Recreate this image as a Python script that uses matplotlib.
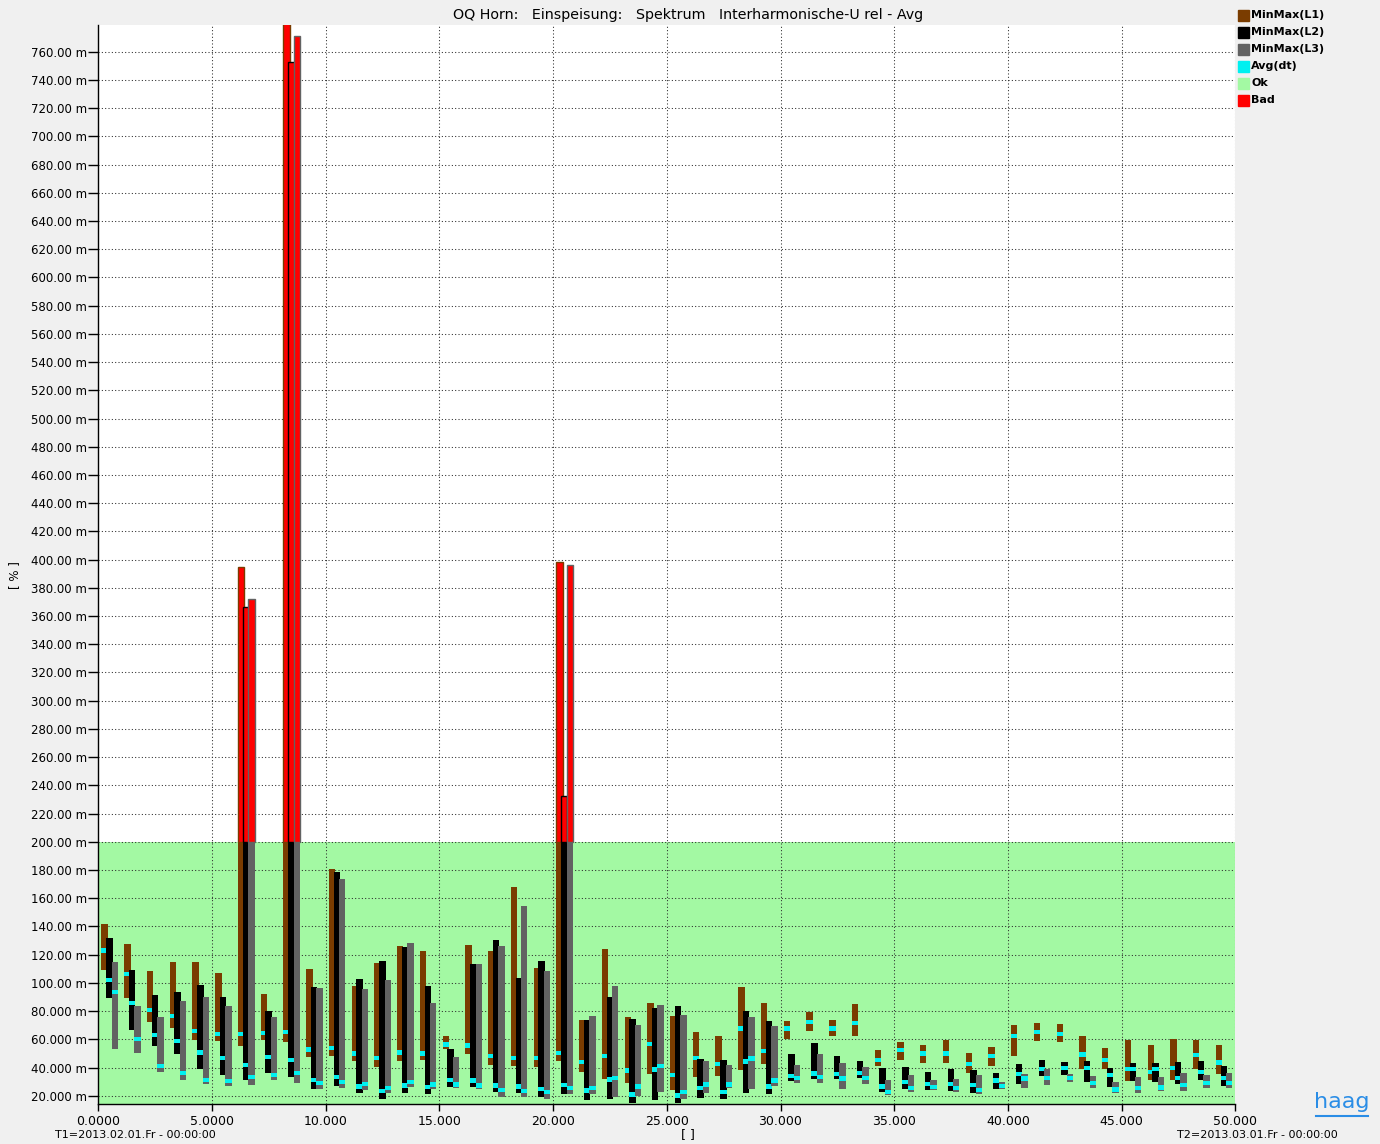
import matplotlib
matplotlib.use("Agg")
import matplotlib.pyplot as plt
import numpy as np
from matplotlib.patches import Rectangle
from matplotlib.lines import Line2D

# ---------------- data (values in m%) ----------------
groups = np.arange(50)  # interharmonic groups 0..49

l1_max = [141.5, 127.8, 108.4, 114.8, 114.8, 106.8, 394.4, 92.4, 780.0, 110.1,
          180.9, 98.0, 114.1, 126.1, 122.8, 62.4, 126.8, 122.8, 167.9, 110.8,
          398.2, 73.7, 124.0, 75.6, 86.0, 76.3, 65.2, 62.0, 97.3, 86.0,
          73.0, 79.6, 73.7, 85.3, 52.3, 57.9, 56.3, 59.3, 50.6, 54.6,
          70.0, 71.6, 70.7, 62.0, 53.9, 59.3, 56.3, 60.3, 59.6, 56.3]
l1_min = [109.4, 89.3, 72.3, 68.3, 59.6, 58.6, 55.6, 59.6, 57.9, 47.5,
          48.2, 44.5, 40.2, 44.5, 45.2, 53.2, 49.9, 41.9, 40.9, 40.2,
          44.5, 36.9, 32.2, 29.1, 35.5, 24.4, 33.1, 33.8, 38.1, 42.6,
          60.3, 65.9, 62.0, 62.6, 40.9, 45.6, 43.3, 43.3, 36.2, 40.9,
          48.2, 58.6, 57.9, 38.6, 38.6, 30.5, 31.5, 31.0, 38.6, 35.5]
l1_avg = [123.0, 106.3, 80.6, 76.6, 65.9, 63.6, 63.6, 64.5, 65.0, 52.7,
          53.9, 49.9, 46.6, 50.6, 49.9, 56.3, 55.6, 48.2, 46.6, 46.6,
          50.4, 43.8, 48.2, 37.9, 56.7, 34.6, 46.6, 42.6, 67.6, 51.5,
          67.6, 72.3, 67.6, 71.6, 45.2, 52.3, 49.9, 49.9, 42.6, 48.2,
          62.2, 65.2, 63.8, 49.2, 45.2, 39.0, 36.9, 39.5, 48.7, 43.5]

l2_max = [131.8, 109.1, 91.4, 93.8, 98.8, 90.0, 366.5, 80.0, 752.4, 97.1,
          178.5, 102.8, 115.7, 125.4, 98.0, 53.0, 113.1, 130.4, 103.5, 115.5,
          232.5, 73.7, 89.8, 74.7, 82.0, 83.6, 46.1, 45.6, 80.1, 73.0,
          49.7, 57.7, 48.2, 44.9, 39.5, 40.2, 36.9, 38.6, 37.9, 36.2,
          42.6, 45.6, 44.2, 44.9, 39.5, 43.3, 43.3, 44.2, 44.9, 40.9]
l2_min = [89.3, 66.7, 55.6, 49.9, 38.6, 34.6, 31.0, 36.2, 33.1, 25.1,
          26.8, 22.0, 18.0, 22.0, 20.9, 26.5, 26.5, 22.5, 22.0, 19.2,
          20.9, 17.3, 18.0, 15.0, 16.8, 15.0, 18.7, 17.8, 22.0, 20.9,
          30.8, 32.2, 32.2, 32.6, 22.5, 24.9, 24.4, 23.7, 21.6, 24.9,
          28.2, 33.8, 34.6, 29.8, 26.5, 30.5, 29.8, 28.2, 31.0, 27.2]
l2_avg = [102.0, 85.5, 62.9, 58.9, 50.6, 46.6, 41.6, 47.3, 45.2, 31.0,
          33.1, 26.5, 23.2, 27.2, 26.1, 31.0, 30.8, 27.2, 26.5, 24.9,
          27.5, 23.7, 31.5, 20.9, 38.6, 20.2, 25.3, 22.5, 44.2, 26.5,
          33.8, 35.7, 35.5, 36.2, 26.5, 29.8, 28.2, 28.2, 27.5, 30.8,
          35.5, 39.0, 39.5, 39.5, 34.6, 39.0, 39.0, 32.8, 36.9, 32.6]

l3_max = [114.8, 83.6, 76.1, 87.4, 90.0, 83.6, 372.2, 76.1, 770.8, 96.4,
          173.8, 95.4, 102.1, 128.5, 86.0, 47.3, 113.1, 126.1, 154.4, 108.4,
          396.5, 76.3, 98.0, 70.0, 84.4, 77.0, 44.9, 41.6, 75.6, 69.2,
          41.6, 49.7, 43.3, 40.2, 31.5, 34.6, 31.5, 32.2, 34.6, 29.8,
          35.5, 38.6, 35.5, 33.8, 29.8, 33.1, 33.1, 36.2, 34.6, 36.2]
l3_min = [53.0, 50.6, 36.9, 31.5, 28.2, 27.2, 27.9, 31.5, 29.1, 25.1,
          25.6, 24.4, 22.0, 26.1, 25.1, 25.3, 25.1, 19.2, 19.2, 18.0,
          20.9, 20.9, 19.2, 19.7, 22.5, 17.8, 21.8, 25.6, 25.1, 26.8,
          29.1, 29.1, 24.9, 28.4, 20.4, 22.5, 24.4, 22.5, 20.9, 24.9,
          25.8, 27.9, 29.8, 25.6, 22.0, 22.0, 23.5, 23.5, 25.8, 25.8]
l3_avg = [93.3, 60.0, 40.9, 36.2, 31.2, 30.3, 33.4, 34.6, 36.0, 29.1,
          30.0, 28.4, 25.6, 29.6, 27.9, 27.9, 27.2, 24.2, 23.2, 22.5,
          25.6, 25.6, 32.4, 26.5, 41.2, 22.5, 27.9, 27.9, 46.4, 30.8,
          32.4, 33.1, 32.2, 32.4, 22.7, 25.6, 26.3, 25.3, 24.2, 27.0,
          32.2, 32.6, 32.6, 29.1, 24.4, 25.6, 25.8, 27.5, 29.1, 29.3]

limit_ok = 200.0
legend_labels = ["MinMax(L1)", "MinMax(L2)", "MinMax(L3)", "Avg(dt)", "Ok", "Bad"]
title = "OQ Horn:   Einspeisung:   Spektrum   Interharmonische-U rel - Avg"
t1_text = "T1=2013.02.01.Fr - 00:00:00"
t2_text = "T2=2013.03.01.Fr - 00:00:00"

# ---------------- style ----------------
c_l1 = "#7a3c00"
c_l2 = "#000000"
c_l3 = "#626262"
c_avg = "#00f0f0"
c_ok = "#a3f9a3"
c_bad = "#ff0000"
bg = "#f0f0f0"

W, H = 1380, 1144
fig = plt.figure(figsize=(W / 100, H / 100), dpi=100, facecolor=bg)
ax_l, ax_r, ax_t, ax_b = 98.3, 1235.3, 25.0, 1103.5
ax = fig.add_axes([ax_l / W, 1 - ax_b / H, (ax_r - ax_l) / W, (ax_b - ax_t) / H])
ax.set_facecolor("white")

ymin, ymax = 14.5, 778.9
ax.set_xlim(0, 50)
ax.set_ylim(ymin, ymax)

# Ok band
ax.axhspan(ymin, limit_ok, color=c_ok, zorder=0, lw=0)

# grid
dot = (0, (1, 2.2))
for yv in np.arange(20, 761, 20):
    ax.axhline(yv, color="#2a2a2a", lw=0.75, ls=dot, zorder=0.5)
for xv in np.arange(5, 51, 5):
    ax.axvline(xv, color="#2a2a2a", lw=0.75, ls=dot, zorder=0.5)

# bars
offsets = [0.28, 0.49, 0.73]
width = 0.28
avg_h = 3.0
phases = [(l1_min, l1_max, l1_avg, c_l1),
          (l2_min, l2_max, l2_avg, c_l2),
          (l3_min, l3_max, l3_avg, c_l3)]

for pi, (mins, maxs, avgs, col) in enumerate(phases):
    xs = groups + offsets[pi]
    mins = np.array(mins); maxs = np.array(maxs); avgs = np.array(avgs)
    top_ok = np.minimum(maxs, limit_ok)
    ax.bar(xs, top_ok - mins, bottom=mins, width=width, color=col,
           edgecolor="none", zorder=2 + pi * 2, align="center")
    bad = maxs > limit_ok
    if bad.any():
        ax.bar(xs[bad], maxs[bad] - limit_ok, bottom=limit_ok, width=width,
               color=c_bad, edgecolor=col, linewidth=1.0, zorder=2 + pi * 2)
    ax.bar(xs, avg_h, bottom=avgs - avg_h / 2, width=width, color=c_avg,
           edgecolor="none", zorder=3 + pi * 2)

# spines
for s in ["top", "right"]:
    ax.spines[s].set_visible(False)
ax.spines["left"].set_color("black")
ax.spines["bottom"].set_color("black")
ax.spines["left"].set_linewidth(1.0)
ax.spines["bottom"].set_linewidth(1.0)


def fmt5(v):
    if abs(v) < 10:
        return f"{v:.4f}"
    if abs(v) < 100:
        return f"{v:.3f}"
    return f"{v:.2f}"


yt = np.arange(20, 761, 20)
ax.set_yticks(yt)
ax.set_yticklabels([fmt5(v) + " m" for v in yt])
xt = np.arange(0, 51, 5)
ax.set_xticks(xt)
ax.set_xticklabels([fmt5(v) for v in xt])
ax.tick_params(axis="y", length=7, width=1, pad=1, labelsize=8.5, colors="black")
ax.tick_params(axis="x", length=5, width=1, pad=3, labelsize=9, colors="black")

# texts
fig.text(688 / W, 1 - 15 / H, title, ha="center", va="center", fontsize=10.3)
fig.text(15 / W, 1 - 575 / H, "[ % ]", rotation=90, ha="center", va="center", fontsize=8.5)
fig.text(688 / W, 1 - 1135 / H, "[ ]", ha="center", va="center", fontsize=9)
fig.text(55 / W, 1 - 1135 / H, t1_text, ha="left", va="center", fontsize=8)
fig.text(1338 / W, 1 - 1135 / H, t2_text, ha="right", va="center", fontsize=8)

# legend (manual)
leg_colors = [c_l1, c_l2, c_l3, c_avg, c_ok, c_bad]
for i, (lab, col) in enumerate(zip(legend_labels, leg_colors)):
    yc = 15 + 17 * i
    fig.patches.append(Rectangle((1238 / W, 1 - (yc + 5.5) / H), 11 / W, 11 / H,
                                 transform=fig.transFigure, color=col, zorder=5))
    fig.text(1251 / W, 1 - yc / H, lab, ha="left", va="center", fontsize=8,
             fontweight="bold")

# haag logo
fig.text(1342 / W, 1 - 1102 / H, "haag", ha="center", va="center", fontsize=16,
         color="#2a8de6")
fig.lines.append(Line2D([1316 / W, 1368 / W], [1 - 1116 / H, 1 - 1116 / H],
                        transform=fig.transFigure, color="#2a8de6", lw=1.5))

fig.savefig("out.png", dpi=100, facecolor=bg)
